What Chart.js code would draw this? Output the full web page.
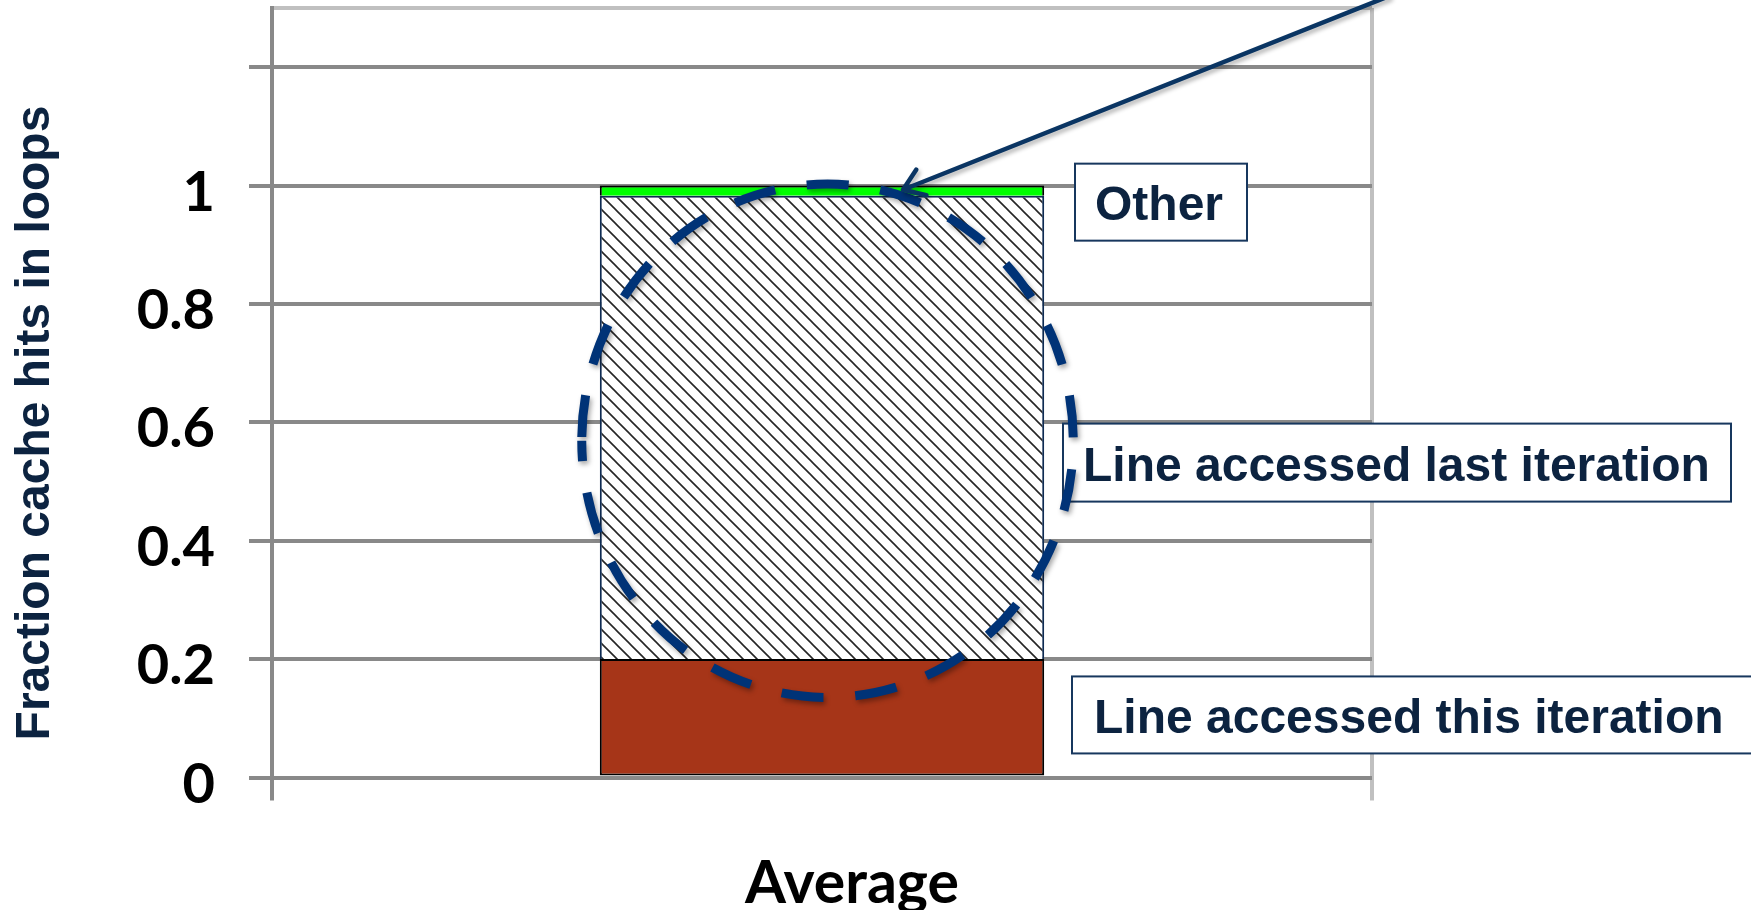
<!DOCTYPE html>
<html>
<head>
<meta charset="utf-8">
<title>Fraction cache hits in loops</title>
<script src="https://cdn.jsdelivr.net/npm/chart.js@4/dist/chart.umd.min.js"></script>
<style>
  html, body { margin: 0; padding: 0; background: #ffffff; }
  #c { display: block; }
</style>
</head>
<body>
<canvas id="c" width="1751" height="910"></canvas>
<script>
// ---- data ----
const categories = ['Average'];
const seriesNames = ['Line accessed this iteration', 'Line accessed last iteration', 'Other'];
const thisIteration = [0.2];
const lastIteration = [0.783];
const otherHits = [0.017];
const yTickValues = [0, 0.2, 0.4, 0.6, 0.8, 1, 1.2, 1.3];
const yTickLabels = ['0', '0.2', '0.4', '0.6', '0.8', '1', '', ''];
const yAxisTitle = 'Fraction cache hits in loops';

// ---- styles ----
const gridGray = '#898989';
const frameGray = '#c0c0c0';
const navyText = '#0c2340';

const canvas = document.getElementById('c');
const ctx0 = canvas.getContext('2d');

// diagonal "\" hatch used for the middle segment
function makeHatch(size, color, width) {
  const t = document.createElement('canvas');
  t.width = size; t.height = size;
  const g = t.getContext('2d');
  g.fillStyle = '#ffffff';
  g.fillRect(0, 0, size, size);
  g.strokeStyle = color;
  g.lineWidth = width;
  g.beginPath();
  for (let k = -1; k <= 1; k++) {
    g.moveTo(-1, k * size - 1);
    g.lineTo(size + 1, k * size + size + 1);
  }
  g.stroke();
  return ctx0.createPattern(t, 'repeat');
}
const hatchFill = makeHatch(14, '#262626', 1.6);

// callouts, highlight ellipse, arrow and the vertical axis title
const annotationLayout = {
  titleFont: 'bold 48px "Liberation Sans", Arial, sans-serif',
  titleX: 49, titleY: 423,
  boxFont: 'bold 48px "Liberation Sans", Arial, sans-serif',
  boxBorder: '#17375e',
  boxes: [
    { dataset: 2, x: 1075, yValue: 0.972, w: 172, h: 77, padX: 20 },
    { dataset: 1, x: 1063, yValue: 0.532, w: 668, h: 78, padX: 20 },
    { dataset: 0, x: 1072, yValue: 0.1057, w: 720, h: 77, padX: 22 }
  ],
  ellipse: { dx: 5.5, yValue: 0.569, ryValue: 0.4337, rxFrac: 0.553, dash: 42, gap: 32, width: 9, color: '#003377' },
  arrow: { tipX: 903, tipValue: 0.993, tailX: 1389, tailValue: 1.32, width: 4.5, head: 24, spread: 0.61, color: '#0a3563' }
};

const calloutPlugin = {
  id: 'callouts',
  afterDraw(chart) {
    const L = annotationLayout;
    const ctx = chart.ctx;
    const ys = chart.scales.y;
    const bar = chart.getDatasetMeta(1).data[0];

    // label boxes
    ctx.save();
    ctx.font = L.boxFont;
    ctx.textBaseline = 'middle';
    ctx.textAlign = 'left';
    L.boxes.forEach(b => {
      const cy = ys.getPixelForValue(b.yValue);
      const top = cy - b.h / 2;
      ctx.fillStyle = '#ffffff';
      ctx.fillRect(b.x, top, b.w, b.h);
      ctx.lineWidth = 2;
      ctx.strokeStyle = L.boxBorder;
      ctx.strokeRect(b.x, top, b.w, b.h);
      ctx.fillStyle = navyText;
      ctx.fillText(chart.data.datasets[b.dataset].label, b.x + b.padX, cy + 5);
    });
    ctx.restore();

    // dashed ellipse around the middle segment
    const e = L.ellipse;
    const cx = bar.x + e.dx;
    const cy = ys.getPixelForValue(e.yValue);
    const ry = ys.getPixelForValue(0) - ys.getPixelForValue(e.ryValue);
    const rx = bar.width * e.rxFrac;
    const hh = Math.pow((rx - ry) / (rx + ry), 2);
    const P = Math.PI * (rx + ry) * (1 + 3 * hh / (10 + Math.sqrt(4 - 3 * hh)));
    const cycle = e.dash + e.gap;
    ctx.save();
    ctx.shadowColor = 'rgba(0,0,0,0.35)';
    ctx.shadowBlur = 5;
    ctx.shadowOffsetX = 2;
    ctx.shadowOffsetY = 3;
    ctx.strokeStyle = e.color;
    ctx.lineWidth = e.width;
    ctx.setLineDash([e.dash, e.gap]);
    ctx.lineDashOffset = (((e.dash / 2 - P / 4) % cycle) + cycle) % cycle;
    ctx.beginPath();
    ctx.ellipse(cx, cy, rx, ry, 0, Math.PI, 3 * Math.PI);
    ctx.stroke();
    ctx.restore();

    // arrow pointing at the top segment
    const A = L.arrow;
    const tip = { x: A.tipX, y: ys.getPixelForValue(A.tipValue) };
    const tail = { x: A.tailX, y: ys.getPixelForValue(A.tailValue) };
    const ang = Math.atan2(tail.y - tip.y, tail.x - tip.x);
    ctx.save();
    ctx.shadowColor = 'rgba(0,0,0,0.3)';
    ctx.shadowBlur = 4;
    ctx.shadowOffsetX = 2;
    ctx.shadowOffsetY = 3;
    ctx.strokeStyle = A.color;
    ctx.lineWidth = A.width;
    ctx.lineCap = 'round';
    ctx.lineJoin = 'round';
    ctx.beginPath();
    ctx.moveTo(tail.x, tail.y);
    ctx.lineTo(tip.x, tip.y);
    ctx.moveTo(tip.x + A.head * Math.cos(ang - A.spread), tip.y + A.head * Math.sin(ang - A.spread));
    ctx.lineTo(tip.x, tip.y);
    ctx.lineTo(tip.x + A.head * Math.cos(ang + A.spread), tip.y + A.head * Math.sin(ang + A.spread));
    ctx.stroke();
    ctx.restore();

    // vertical axis title
    ctx.save();
    ctx.translate(L.titleX, L.titleY);
    ctx.rotate(-Math.PI / 2);
    ctx.font = L.titleFont;
    ctx.fillStyle = navyText;
    ctx.textAlign = 'center';
    ctx.textBaseline = 'alphabetic';
    ctx.fillText(yAxisTitle, 0, 0);
    ctx.restore();
  }
};

const tickFamily = 'Lato, "Open Sans", sans-serif';

new Chart(canvas, {
  type: 'bar',
  data: {
    labels: categories,
    datasets: [
      { label: seriesNames[0], data: thisIteration, backgroundColor: '#a63518', borderColor: '#000000', borderWidth: 2, borderSkipped: false },
      { label: seriesNames[1], data: lastIteration, backgroundColor: hatchFill, borderColor: '#0e2b52', borderWidth: 2 },
      { label: seriesNames[2], data: otherHits, backgroundColor: '#00ff00', borderColor: '#000000', borderWidth: 2 }
    ]
  },
  options: {
    responsive: false,
    animation: false,
    devicePixelRatio: 1,
    layout: { padding: { top: 8, right: 379, bottom: 0, left: 0 } },
    datasets: { bar: { categoryPercentage: 1, barPercentage: 0.404 } },
    plugins: { legend: { display: false }, tooltip: { enabled: false } },
    scales: {
      x: {
        stacked: true,
        offset: true,
        grid: {
          offset: true,
          drawOnChartArea: true,
          lineWidth: 4,
          tickLength: 23,
          color: c => (c.type === 'tick' ? gridGray : frameGray),
          tickColor: c => (c.type === 'tick' ? gridGray : frameGray)
        },
        border: { display: false },
        ticks: { color: '#000000', font: { family: tickFamily, weight: 'bold', size: 59 }, padding: 48, labelOffset: 30 },
        afterFit: s => { s.height = 132.5; s.paddingLeft = 0; s.paddingRight = 0; }
      },
      y: {
        stacked: true,
        min: 0,
        max: 1.3,
        afterBuildTicks: s => { s.ticks = yTickValues.map(v => ({ value: v })); },
        grid: {
          lineWidth: 4,
          tickLength: 23,
          color: c => (c.tick && c.tick.value > 1.25 ? frameGray : gridGray),
          tickColor: c => (c.tick && c.tick.value > 1.25 ? 'rgba(0,0,0,0)' : gridGray)
        },
        border: { display: true, color: gridGray, width: 4 },
        ticks: {
          color: '#000000',
          font: { family: tickFamily, weight: 'bold', size: 56 },
          padding: 34,
          labelOffset: 7,
          callback: (v, i) => yTickLabels[i]
        },
        afterFit: s => { s.width = 272; s.paddingTop = 0; s.paddingBottom = 0; }
      }
    }
  },
  plugins: [calloutPlugin]
});
</script>
</body>
</html>
